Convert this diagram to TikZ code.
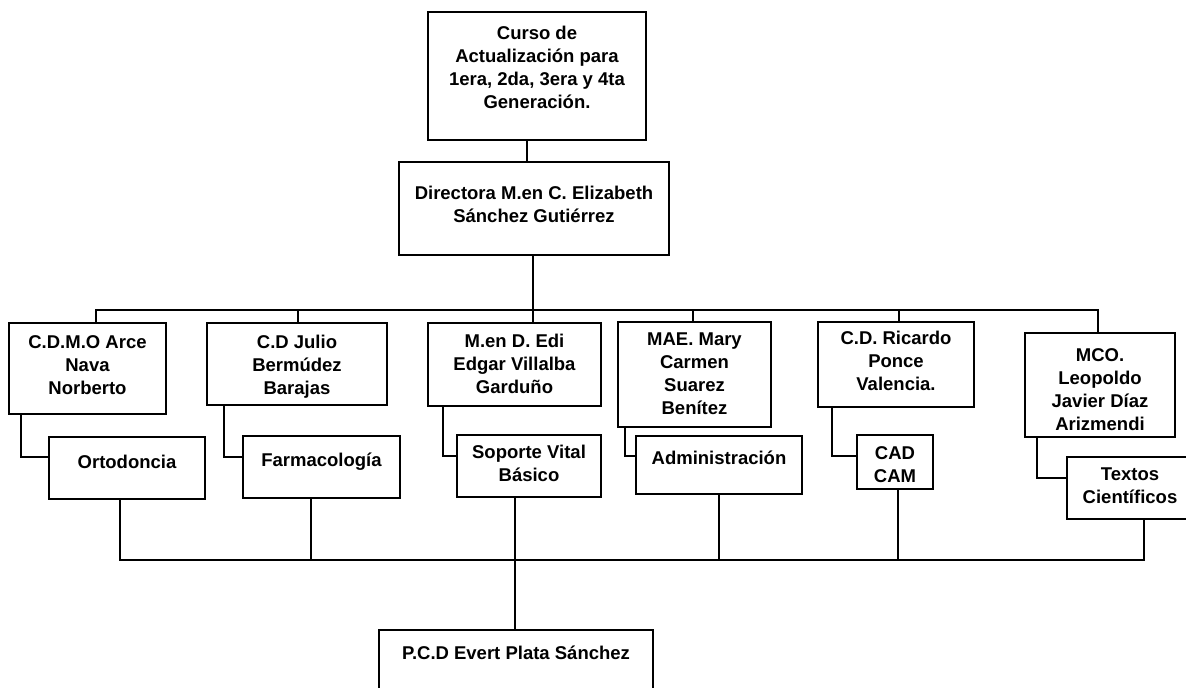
\documentclass[tikz,border=0pt]{standalone}
\usepackage{fontspec}
\setmainfont{Liberation Sans}
\tikzset{
  obx/.style={draw=black, line width=2.2pt, inner sep=0pt, outer sep=0pt, anchor=north west,
    font=\fontsize{18.5}{23}\selectfont\bfseries, text=black},
  conn/.style={draw=black, line width=2.2pt, line join=miter}
}
% name, x1, y1, x2, y2, first-baseline offset, text
\newcommand\obox[7]{%
  \node[obx] (#1) at (#2,#3) {\begin{minipage}[t][\dimexpr#5pt-#3pt\relax][t]{\dimexpr#4pt-#2pt\relax}%
    \centering\vspace*{\dimexpr#6pt-15pt\relax}\rule{0pt}{15pt}#7\par\end{minipage}};}
\begin{document}
\begin{tikzpicture}[x=1pt,y=-1pt]
\fill[white] (0,0) rectangle (1186,688);
\useasboundingbox (0,0) rectangle (1186,688);
\begin{scope}
\clip (0,0) rectangle (1186,688);
\obox{top}{428}{12}{646}{140}{27.5}{Curso de\\Actualización para\\1era, 2da, 3era y 4ta\\Generación.}
\obox{dir}{399}{162}{669}{255}{37.5}{Directora M.en C. Elizabeth\\Sánchez Gutiérrez}
\obox{b1}{9}{323}{166}{414}{25.5}{C.D.M.O Arce\\Nava\\Norberto}
\obox{b2}{207}{323}{387}{405}{25.5}{C.D Julio\\Bermúdez\\Barajas}
\obox{b3}{428}{323}{601}{406}{24.5}{M.en D. Edi\\Edgar Villalba\\Garduño}
\obox{b4}{618}{322}{771}{427}{23.5}{MAE. Mary\\Carmen\\Suarez\\Benítez}
\obox{b5}{818}{322}{974}{407}{22.5}{C.D. Ricardo\\Ponce\\Valencia.}
\obox{b6}{1025}{333}{1175}{437}{28.5}{MCO.\\Leopoldo\\Javier Díaz\\Arizmendi}
\obox{s1}{49}{437}{205}{499}{31.5}{Ortodoncia}
\obox{s2}{243}{436}{400}{498}{30.5}{Farmacología}
\obox{s3}{457}{435}{601}{497}{23.5}{Soporte Vital\\Básico}
\obox{s4}{636}{436}{802}{494}{28.5}{Administración}
\obox{s5}{857}{435}{933}{489}{24.5}{CAD\\CAM}
\obox{s6}{1067}{457}{1193}{519}{23.5}{Textos\\Científicos}
\obox{pcd}{379}{630}{653}{700}{29.5}{P.C.D Evert Plata Sánchez}

\coordinate (busTL) at (96,310);
\coordinate (busTR) at (1098,310);
\coordinate (busBL) at (120,560);
\coordinate (busBR) at (1144,560);

% top to director
\draw[conn] (527,0 |- top.south) -- (527,0 |- dir.north);
% director to top bus and third manager
\draw[conn] (533,0 |- dir.south) -- (533,0 |- b3.north);
% top bus
\draw[conn] (96,0 |- b1.north) -- (busTL) -- (busTR) -- (1098,0 |- b6.north);
\draw[conn] (298,0 |- busTL) -- (298,0 |- b2.north);
\draw[conn] (693,0 |- busTL) -- (693,0 |- b4.north);
\draw[conn] (899,0 |- busTL) -- (899,0 |- b5.north);
% elbows manager -> subject
\draw[conn] (21,0 |- b1.south) |- (s1.west |- 0,457);
\draw[conn] (224,0 |- b2.south) |- (s2.west |- 0,457);
\draw[conn] (443,0 |- b3.south) |- (s3.west |- 0,456);
\draw[conn] (625,0 |- b4.south) |- (s4.west |- 0,456);
\draw[conn] (832,0 |- b5.south) |- (s5.west |- 0,456);
\draw[conn] (1037,0 |- b6.south) |- (s6.west |- 0,478);
% bottom bus
\draw[conn] (120,0 |- s1.south) -- (busBL) -- (busBR) -- (1144,0 |- s6.south);
\draw[conn] (311,0 |- s2.south) -- (311,0 |- busBL);
\draw[conn] (719,0 |- s4.south) -- (719,0 |- busBL);
\draw[conn] (898,0 |- s5.south) -- (898,0 |- busBL);
\draw[conn] (515,0 |- s3.south) -- (515,0 |- pcd.north);
\end{scope}
\end{tikzpicture}
\end{document}
